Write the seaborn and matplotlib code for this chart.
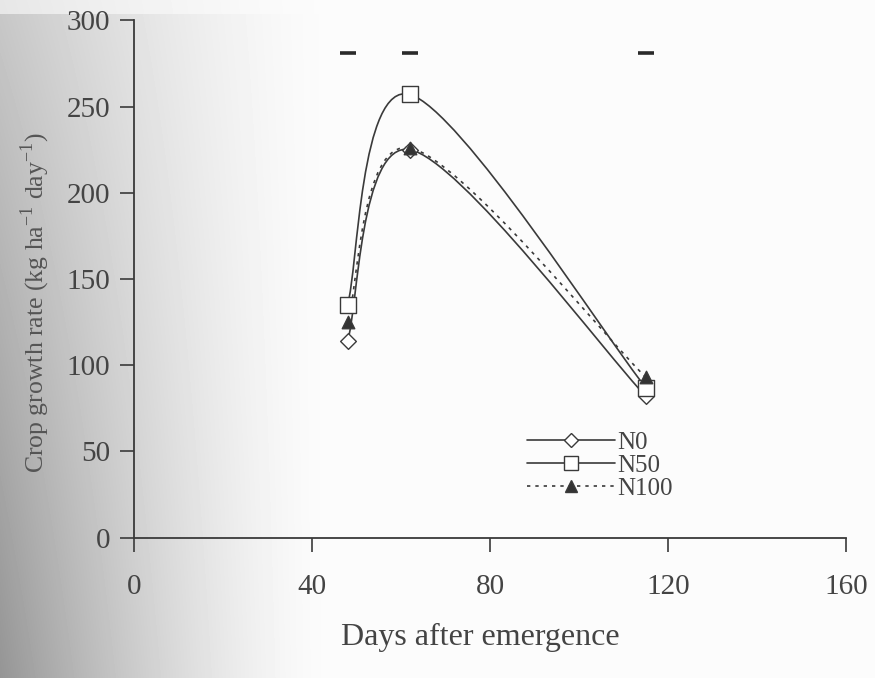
import numpy as np
import matplotlib.pyplot as plt
from matplotlib.path import Path
from matplotlib.patches import PathPatch
from matplotlib.lines import Line2D
import pandas as pd
import seaborn as sns

# ## Crop growth rate data
days = [48, 62, 115]
n0 = [114, 225, 82]
n50 = [135, 257, 87]
n100 = [125, 226, 93]
lsd_days = [48, 62, 115]
lsd_level = [281, 281, 281]

x_ticks = [0, 40, 80, 120, 160]
y_ticks = [0, 50, 100, 150, 200, 250, 300]

df = pd.DataFrame({'day': days * 3,
                   'rate': n0 + n50 + n100,
                   'treatment': ['N0'] * 3 + ['N50'] * 3 + ['N100'] * 3})

sns.set_theme(style="ticks")
plt.rcParams['font.family'] = ['Liberation Serif', 'DejaVu Serif']
ink = '#3a3a3a'

fig = plt.figure(figsize=(8.75, 6.78), dpi=100)

# scanned page shading on the left
bg = fig.add_axes([0, 0, 1, 1], zorder=-1)
gx = np.linspace(0, 1, 875)
gy = np.linspace(0, 1, 678)[:, None]
shade = np.clip(1 - gx / 0.37, 0, 1) ** 1.4
depth = 0.20 + 0.20 * gy
img = 0.985 - depth * shade
img[:14, :] = img[:14, :] * 0.4 + 0.985 * 0.6
bg.imshow(img, cmap='gray', vmin=0, vmax=1, aspect='auto')
bg.axis('off')

ax = fig.add_axes([0.153, 0.207, 0.814, 0.763])
ax.patch.set_alpha(0)


def smooth_path(xs, ys, sx=4.45, sy=1.72):
    # Bezier path through the points (Catmull-Rom style smoothing in screen units)
    p = np.column_stack([np.array(xs) * sx, np.array(ys) * sy])
    verts = [p[0]]
    codes = [Path.MOVETO]
    n = len(p)
    for i in range(n - 1):
        p0 = p[i - 1] if i > 0 else p[i]
        p3 = p[i + 2] if i + 2 < n else p[i + 1]
        c1 = p[i] + (p[i + 1] - p0) / 6
        c2 = p[i + 1] - (p3 - p[i]) / 6
        verts += [c1, c2, p[i + 1]]
        codes += [Path.CURVE4] * 3
    verts = np.array(verts) / [sx, sy]
    return Path(verts, codes)


styles = {
    'N0': dict(marker='D', mfc='white', ls='-', ms=8),
    'N50': dict(marker='s', mfc='white', ls='-', ms=11),
    'N100': dict(marker='^', mfc='#333333', ls=(0, (2, 3)), ms=9),
}

for name, vals in [('N0', n0), ('N50', n50), ('N100', n100)]:
    st = styles[name]
    ax.add_patch(PathPatch(smooth_path(days, vals), fill=False, ec=ink,
                           lw=1.2, ls=st['ls'], zorder=2))

for name in ['N0', 'N50', 'N100']:
    st = styles[name]
    sub = df[df.treatment == name]
    sns.scatterplot(data=sub, x='day', y='rate', marker=st['marker'],
                    s=st['ms'] ** 2, color=st['mfc'], edgecolor=ink,
                    linewidth=1.0, ax=ax, zorder=3, legend=False)

# LSD bars
ax.plot(lsd_days, lsd_level, ls='none', marker='_', ms=12, mew=2.6, color='#2a2a2a')

ax.set_xlim(0, 160)
ax.set_ylim(0, 300)
ax.set_xticks(x_ticks)
ax.set_yticks(y_ticks)
for s in ['top', 'right']:
    ax.spines[s].set_visible(False)
for s in ['left', 'bottom']:
    ax.spines[s].set_color(ink)
    ax.spines[s].set_linewidth(1.3)
ax.tick_params(axis='both', direction='out', length=10, width=1.2, color=ink,
               labelsize=21, labelcolor='#444444')
ax.tick_params(axis='x', pad=16)
ax.tick_params(axis='y', pad=7)

ax.set_xlabel('Days after emergence', fontsize=23, color='#444444')
ax.xaxis.set_label_coords(0.487, -0.165)
ax.set_ylabel('Crop growth rate (kg ha$^{\\mathregular{-1}}$ day$^{\\mathregular{-1}}$)',
              fontsize=18.5, color='#555555')
ax.yaxis.set_label_coords(-0.115, 0.455)
ax.grid(False)

handles = [Line2D([], [], color=ink, lw=1.2, ls=styles[n]['ls'], marker=styles[n]['marker'],
                  mfc=styles[n]['mfc'], mec=ink, ms=styles[n]['ms'] * 0.95)
           for n in ['N0', 'N50', 'N100']]
leg = ax.legend(handles, ['N0', 'N50', 'N100'], loc='upper left',
                bbox_to_anchor=(0.552, 0.206), frameon=False, fontsize=18,
                handlelength=3.5, handletextpad=0.1, labelspacing=0.02,
                borderaxespad=0, borderpad=0)
for t in leg.get_texts():
    t.set_color('#444444')

fig.savefig('out.png', dpi=100)
